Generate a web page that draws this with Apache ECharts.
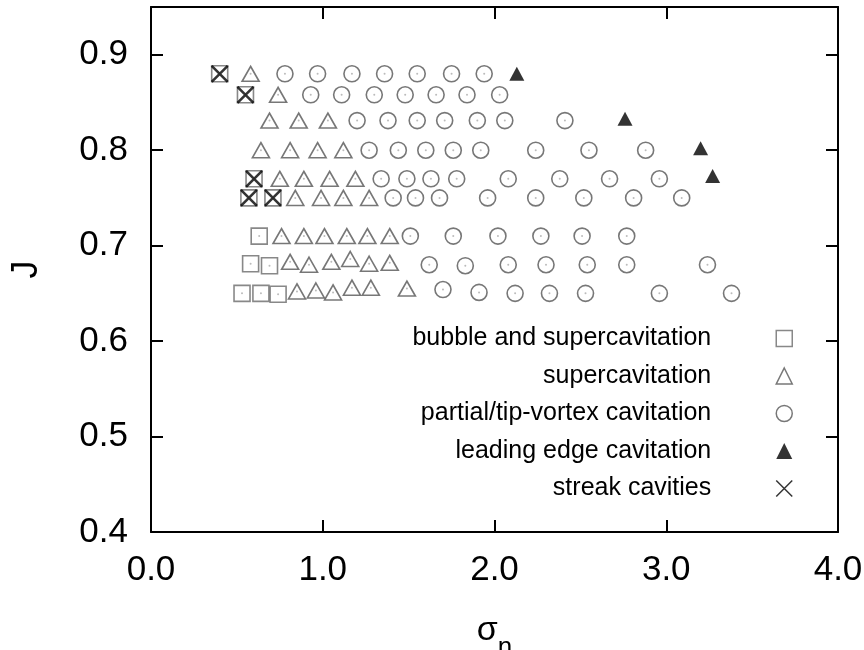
<!DOCTYPE html>
<html>
<head>
<meta charset="utf-8">
<script src="https://cdn.jsdelivr.net/npm/echarts@6/dist/echarts.min.js"></script>
<style>
  html, body { margin: 0; padding: 0; background: #fff; }
  #chart { width: 864px; height: 650px; }
</style>
</head>
<body>
<div id="chart"></div>
<script>
// Cavitation observations: cavitation number sigma_n (x) against advance ratio J (y)
const seriesNames = [
  'bubble and supercavitation',
  'supercavitation',
  'partial/tip-vortex cavitation',
  'leading edge cavitation',
  'streak cavities'
];

const bubbleSuper = [
  [0.40, 0.880], [0.55, 0.858], [0.60, 0.770], [0.57, 0.750], [0.71, 0.750],
  [0.63, 0.710], [0.58, 0.681], [0.69, 0.679], [0.53, 0.650], [0.64, 0.650], [0.74, 0.649]
];

const superCav = [
  [0.58, 0.880],
  [0.74, 0.858],
  [0.69, 0.831], [0.86, 0.831], [1.03, 0.831],
  [0.64, 0.800], [0.81, 0.800], [0.97, 0.800], [1.12, 0.800],
  [0.75, 0.770], [0.89, 0.770], [1.04, 0.770], [1.19, 0.770],
  [0.84, 0.750], [0.99, 0.750], [1.12, 0.750], [1.27, 0.750],
  [0.76, 0.710], [0.89, 0.710], [1.01, 0.710], [1.14, 0.710], [1.26, 0.710], [1.39, 0.710],
  [0.81, 0.683], [0.92, 0.680], [1.05, 0.683], [1.16, 0.686], [1.27, 0.681], [1.39, 0.682],
  [0.85, 0.652], [0.96, 0.653], [1.06, 0.651], [1.17, 0.656], [1.28, 0.656], [1.49, 0.655]
];

const partialTip = [
  [0.78, 0.880], [0.97, 0.880], [1.17, 0.880], [1.36, 0.880], [1.55, 0.880], [1.75, 0.880], [1.94, 0.880],
  [0.93, 0.858], [1.11, 0.858], [1.30, 0.858], [1.48, 0.858], [1.66, 0.858], [1.84, 0.858], [2.03, 0.858],
  [1.20, 0.831], [1.38, 0.831], [1.55, 0.831], [1.71, 0.831], [1.90, 0.831], [2.06, 0.831], [2.41, 0.831],
  [1.27, 0.800], [1.44, 0.800], [1.60, 0.800], [1.76, 0.800], [1.92, 0.800], [2.24, 0.800], [2.55, 0.800], [2.88, 0.800],
  [1.34, 0.770], [1.49, 0.770], [1.63, 0.770], [1.78, 0.770], [2.08, 0.770], [2.38, 0.770], [2.67, 0.770], [2.96, 0.770],
  [1.41, 0.750], [1.54, 0.750], [1.68, 0.750], [1.96, 0.750], [2.24, 0.750], [2.52, 0.750], [2.81, 0.750], [3.09, 0.750],
  [1.51, 0.710], [1.76, 0.710], [2.02, 0.710], [2.27, 0.710], [2.51, 0.710], [2.77, 0.710],
  [1.62, 0.680], [1.83, 0.679], [2.08, 0.680], [2.30, 0.680], [2.54, 0.680], [2.77, 0.680], [3.24, 0.680],
  [1.70, 0.654], [1.91, 0.651], [2.12, 0.650], [2.32, 0.650], [2.53, 0.650], [2.96, 0.650], [3.38, 0.650]
];

const leadingEdge = [
  [2.13, 0.880], [2.76, 0.833], [3.20, 0.802], [3.27, 0.773]
];

const streak = [
  [0.40, 0.880], [0.55, 0.858], [0.60, 0.770], [0.57, 0.750], [0.71, 0.750]
];

const xTicks = [0.0, 1.0, 2.0, 3.0, 4.0];
const yTicks = [0.4, 0.5, 0.6, 0.7, 0.8, 0.9];

const FONT = '"Liberation Sans", Arial, Helvetica, sans-serif';
const crossPath = 'path://M0,0L10,10M10,0L0,10';

const chart = echarts.init(document.getElementById('chart'), null, { renderer: 'canvas' });

const axisLine = { show: true, onZero: false, lineStyle: { color: '#000', width: 2 } };
const axisTick = { show: true, inside: true, length: 12, lineStyle: { color: '#000', width: 2 } };

const isTick = (list) => (v) => list.some(t => Math.abs(t - v) < 1e-6);
const onX = isTick(xTicks);
const onY = isTick(yTicks);

const option = {
  animation: false,
  backgroundColor: '#fff',
  grid: { left: 151, right: 26, top: 7, bottom: 118, containLabel: false, outerBoundsMode: 'none' },
  xAxis: [
    {
      type: 'value', position: 'bottom', min: 0, max: 4, interval: 1,
      axisLine, axisTick, splitLine: { show: false },
      axisLabel: {
        margin: 21, color: '#000', fontSize: 35, fontFamily: FONT,
        formatter: v => onX(v) ? v.toFixed(1) : ''
      },
      name: '{s|σ}{n|n}',
      nameLocation: 'middle',
      nameGap: 82,
      nameTextStyle: {
        rich: {
          s: { fontSize: 34, lineHeight: 34, fontFamily: FONT, color: '#000', verticalAlign: 'top' },
          n: { fontSize: 26, lineHeight: 26, fontFamily: FONT, color: '#000', verticalAlign: 'top', padding: [21, 0, 0, 0] }
        }
      }
    },
    {
      type: 'value', position: 'top', min: 0, max: 4, interval: 1,
      axisLine, axisTick, axisLabel: { show: false }, splitLine: { show: false }
    }
  ],
  yAxis: [
    {
      type: 'value', position: 'left', min: 0.4, max: 0.95, interval: 0.1,
      axisLine, axisTick, splitLine: { show: false },
      axisLabel: {
        margin: 23, color: '#000', fontSize: 35, fontFamily: FONT,
        showMaxLabel: false,
        formatter: v => onY(v) ? v.toFixed(1) : ''
      },
      name: 'J',
      nameLocation: 'middle',
      nameRotate: 90,
      nameGap: 106,
      nameTextStyle: { fontSize: 36, fontFamily: FONT, color: '#000' }
    },
    {
      type: 'value', position: 'right', min: 0.4, max: 0.95, interval: 0.1,
      axisLine, axisTick, axisLabel: { show: false }, splitLine: { show: false }
    }
  ],
  legend: {
    data: seriesNames,
    orient: 'vertical',
    align: 'right',
    right: 71,
    top: 326,
    padding: 0,
    itemWidth: 16,
    itemHeight: 16,
    itemGap: 12.5,
    selectedMode: false,
    itemStyle: { borderWidth: 1.5 },
    textStyle: { fontSize: 25, fontFamily: FONT, color: '#000', padding: [0, 60, 0, 0] }
  },
  series: [
    {
      name: seriesNames[0], type: 'scatter', data: bubbleSuper, symbol: 'rect', symbolSize: 16, z: 2,
      itemStyle: { color: 'rgba(255,255,255,0)', borderColor: '#6a6a6a', borderWidth: 1.6 }
    },
    {
      name: seriesNames[1], type: 'scatter', data: superCav, symbol: 'triangle', symbolSize: [17, 15], z: 2,
      itemStyle: { color: 'rgba(255,255,255,0)', borderColor: '#555', borderWidth: 1.6 }
    },
    {
      name: seriesNames[2], type: 'scatter', data: partialTip, symbol: 'circle', symbolSize: 16, z: 2,
      itemStyle: { color: 'rgba(255,255,255,0)', borderColor: '#555', borderWidth: 1.6 }
    },
    {
      name: seriesNames[3], type: 'scatter', data: leadingEdge, symbol: 'triangle', symbolSize: [15, 14], z: 3,
      itemStyle: { color: '#000' }
    },
    {
      name: seriesNames[4], type: 'scatter', data: streak, symbol: crossPath, symbolSize: 16, z: 4,
      itemStyle: { color: '#000', borderColor: '#000', borderWidth: 2.6 }
    },
    {
      // faint centre dots inside the open markers
      name: 'centres', type: 'scatter', silent: true, symbol: 'circle', symbolSize: 2, z: 1,
      data: bubbleSuper.concat(superCav, partialTip),
      itemStyle: { color: '#aaa' }
    }
  ]
};

chart.setOption(option);
</script>
</body>
</html>
